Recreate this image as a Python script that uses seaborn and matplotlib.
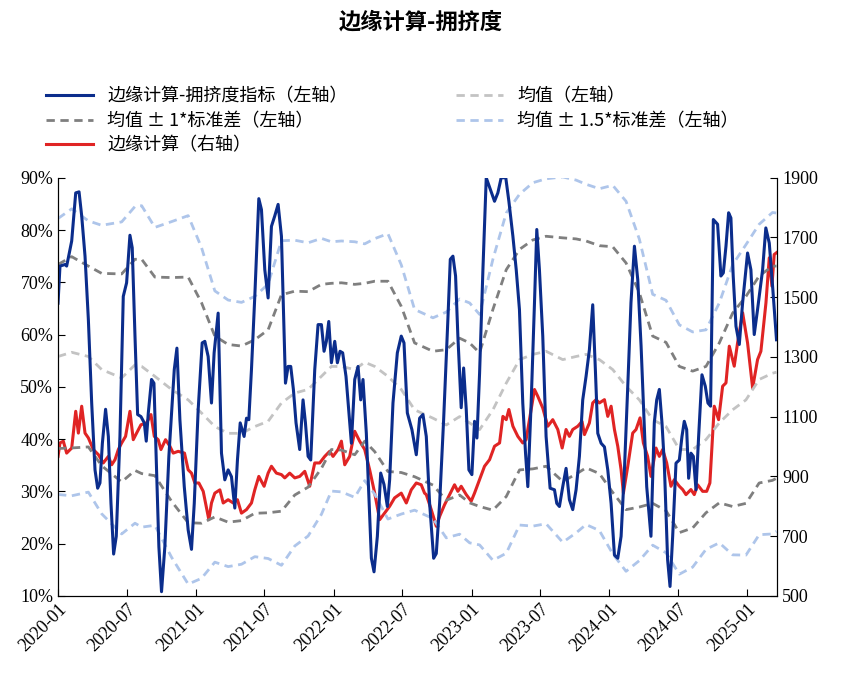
import numpy as np
import pandas as pd
import matplotlib
matplotlib.use("Agg")
import matplotlib.pyplot as plt
import matplotlib.dates as mdates
from matplotlib import font_manager
import seaborn as sns

# months since 2020-01-01
idx_m = [0.0,0.17,0.61,0.75,0.9,1.19,1.54,1.83,2.06,2.35,2.64,2.93,3.22,3.45,3.65,3.86,4.14,4.38,4.61,4.84,5.07,5.39,5.68,5.97,6.26,6.46,6.7,6.93,7.22,7.51,7.68,7.86,8.14,8.35,8.58,8.78,9.01,9.3,9.65,10.12,10.35,10.61,10.99,11.33,11.62,11.86,12.2,12.55,12.78,13.07,13.36,13.59,13.94,14.23,14.52,14.81,15.1,15.39,15.62,15.86,16.2,16.41,16.61,16.84,17.13,17.48,17.71,18.0,18.29,18.58,18.87,19.16,19.45,19.8,20.03,20.26,20.49,20.72,21.04,21.33,21.54,21.77,22.0,22.35,22.64,22.93,23.16,23.36,23.57,23.8,24.09,24.32,24.55,24.78,25.07,25.54,25.83,26.12,26.35,26.55,26.84,27.28,27.51,27.8,28.09,28.38,28.67,28.87,29.16,29.54,29.88,30.12,30.41,30.81,31.19,31.48,31.77,32.06,32.35,32.7,32.93,33.22,33.57,33.94,34.15,34.38,34.61,34.81,35.1,35.31,35.54,35.77,36.03,36.26,36.47,36.7,36.99,37.28,37.63,38.0,38.29,38.58,38.98,39.25,39.6,39.89,40.17,40.46,40.7,40.9,41.19,41.48,41.68,41.91,42.2,42.49,42.84,43.22,43.42,43.65,43.94,44.23,44.52,44.81,45.1,45.39,45.68,45.97,46.26,46.55,46.78,46.99,47.28,47.57,47.86,48.15,48.44,48.73,49.02,49.31,49.6,49.88,50.18,50.47,50.76,50.96,51.25,51.62,51.91,52.12,52.35,52.58,52.78,53.07,53.28,53.51,53.8,54.09,54.32,54.52,54.73,54.9,55.1,55.31,55.54,55.77,56.06,56.35,56.58,56.81,57.05,57.42,57.71,57.92,58.15,58.38,58.58,58.78,59.02,59.31,59.6,60.03,60.32,60.61,60.9,61.34,61.62,61.92,62.21,62.55]
idx_v = [66.0,73.1,73.4,73.1,74.7,77.9,87.1,87.3,82.7,75.0,62.9,46.9,34.1,30.6,31.6,39.2,45.7,40.5,27.7,18.0,21.4,40.5,67.3,69.9,79.0,76.6,59.7,44.7,44.3,43.1,39.6,45.0,51.4,50.7,34.1,19.4,10.8,19.4,36.7,53.3,57.4,43.7,30.9,22.6,18.9,27.7,45.6,58.4,58.7,55.8,46.9,56.5,64.1,37.3,32.2,34.1,32.8,26.8,36.0,43.1,40.5,44.0,43.7,53.3,67.3,86.0,83.9,72.4,67.0,80.7,82.7,84.9,78.8,50.7,53.9,53.9,49.5,43.1,38.0,47.5,43.1,36.7,36.0,53.3,61.9,61.9,56.8,58.7,62.5,54.6,58.7,54.6,56.8,56.5,52.0,39.2,51.4,53.9,47.5,51.4,41.1,17.2,14.6,21.4,33.5,31.3,27.1,32.2,46.9,56.5,59.7,58.4,45.0,41.8,37.0,44.0,44.7,40.5,27.7,17.2,18.1,27.7,43.7,62.9,74.4,75.0,71.2,59.7,46.0,53.6,45.6,34.1,33.2,43.4,40.2,52.6,72.4,92.0,87.8,85.5,87.1,92.0,92.0,85.5,78.8,72.4,64.8,46.9,37.3,30.9,46.9,66.1,80.1,72.4,59.7,40.5,30.6,30.3,27.7,27.1,30.9,34.4,28.4,26.5,30.3,36.7,47.5,52.0,57.1,65.7,53.3,41.1,39.2,38.5,34.1,27.7,17.8,17.2,21.4,34.1,50.1,66.1,76.9,70.5,57.8,46.9,30.9,21.4,43.1,47.5,49.5,43.1,35.4,16.9,11.8,21.4,35.4,36.0,40.5,43.4,41.8,32.5,37.3,36.7,30.3,40.5,52.3,50.1,46.9,46.3,82.0,81.1,71.2,71.8,76.9,83.3,82.3,71.2,61.6,58.1,66.1,75.6,72.4,60.0,64.8,72.4,80.4,77.5,69.2,59.0]

price_m = [0,0.17,0.46,0.75,1.19,1.54,1.77,2.06,2.35,2.64,3.07,3.51,3.94,4.38,4.67,4.96,5.25,5.54,5.88,6.26,6.55,6.84,7.22,7.71,8.09,8.38,8.72,8.96,9.36,9.74,10.03,10.46,11.01,11.33,11.62,11.91,12.26,12.64,13.13,13.36,13.65,14.09,14.38,14.81,15.25,15.62,15.97,16.41,16.84,17.13,17.48,17.94,18.29,18.58,19.01,19.45,19.74,20.17,20.61,21.04,21.48,21.91,22.35,22.78,23.22,23.65,23.94,24.38,24.67,24.96,25.39,25.83,26.26,26.7,27.13,27.57,28.0,28.43,28.87,29.3,29.88,30.32,30.75,31.19,31.62,31.91,32.06,32.49,32.93,33.22,33.65,34.09,34.52,34.81,35.1,35.54,35.97,36.26,36.7,37.13,37.57,38.0,38.44,38.73,39.02,39.25,39.6,40.03,40.46,40.75,41.19,41.48,41.77,42.2,42.64,43.07,43.51,43.89,44.23,44.52,44.81,45.25,45.62,45.83,46.26,46.55,46.84,47.13,47.57,47.86,48.15,48.44,48.73,49.02,49.22,49.6,50.03,50.32,50.67,50.96,51.33,51.62,52.06,52.35,52.64,52.99,53.36,53.65,54.09,54.38,54.67,55.1,55.39,55.68,56.12,56.47,56.75,57.13,57.51,57.86,58.15,58.44,58.87,59.16,59.6,60.03,60.47,60.9,61.19,61.63,61.92,62.15,62.35,62.55]
price_v = [967,1012,1018,978,995,1118,1045,1135,1045,1029,990,973,945,967,939,956,990,1012,1034,1118,1023,1045,1073,1079,1107,1034,1023,990,1023,1001,978,984,978,922,911,878,878,850,755,811,844,855,811,822,811,822,777,789,811,855,900,867,911,934,911,906,895,911,895,900,917,867,945,945,967,984,967,990,1018,939,967,1051,1018,990,922,844,755,777,800,828,844,811,855,878,872,844,839,789,733,766,805,839,872,850,867,839,817,844,889,934,956,1001,1012,1101,1090,1124,1068,1034,1012,1023,1124,1191,1168,1129,1068,1090,1057,995,1057,1034,1057,1068,1084,1040,1079,1146,1157,1146,1157,1101,1135,1057,1001,922,844,934,1045,1057,1096,1012,967,900,995,967,990,945,867,889,867,856,839,856,839,872,850,850,878,1135,1090,1202,1213,1336,1269,1347,1448,1347,1196,1291,1319,1481,1632,1537,1643,1649]

stat_m = [0.0,1.19,2.64,3.8,5.54,6.7,7.28,8.43,9.88,11.33,12.49,13.65,14.81,15.97,17.13,18.29,19.45,20.61,21.77,22.93,23.8,24.67,25.83,26.7,27.57,28.72,29.88,31.04,32.64,33.8,34.96,35.83,36.7,37.86,39.02,40.18,41.34,42.49,43.94,45.1,45.97,47.13,48.29,49.45,50.61,51.77,52.93,54.09,55.25,56.41,57.57,58.73,59.89,61.04,62.2,62.55]
mean_v = [55.8,56.6,55.8,53.3,51.7,54.2,53.9,52.0,49.5,47.5,45.0,42.4,41.1,41.1,42.4,43.4,46.9,48.8,49.5,52.0,53.9,53.9,53.3,54.7,53.9,52.0,49.5,45.6,44.0,42.7,44.3,43.1,41.8,45.6,50.7,55.2,56.2,56.8,55.2,55.8,56.2,55.2,53.3,50.1,47.5,43.7,42.4,38.0,38.0,39.9,43.1,45.6,47.5,51.4,52.6,52.8]
std_v = [17.6,18.3,17.3,18.4,19.9,20.2,20.5,19.0,21.4,23.5,21.1,17.3,17.0,16.7,16.6,17.5,20.7,19.5,18.7,17.6,15.9,16.0,16.3,15.1,16.3,18.2,15.9,12.8,12.8,14.4,15.0,15.3,14.7,19.2,21.7,21.1,21.9,22.0,23.3,22.5,21.7,21.8,23.5,23.6,20.5,16.0,16.1,15.9,15.0,14.0,15.3,18.5,19.8,19.8,20.5,20.3]

base = pd.Timestamp("2020-01-01")
def to_dates(m):
    return [base + pd.Timedelta(days=float(x) * 30.44) for x in m]

df_idx = pd.DataFrame({"date": to_dates(idx_m), "v": np.clip(idx_v, None, 90.0)})
df_p = pd.DataFrame({"date": to_dates(price_m), "v": price_v})
mean = np.array(mean_v); std = np.array(std_v)
df_s = pd.DataFrame({"date": to_dates(stat_m), "mean": mean,
                     "u1": mean + std, "l1": mean - std,
                     "u15": mean + 1.5 * std, "l15": mean - 1.5 * std})

avail = {f.name for f in font_manager.fontManager.ttflist}
cjk_list = [n for n in ["Noto Sans CJK SC", "Noto Sans CJK JP", "Noto Sans CJK TC",
                        "Noto Sans CJK KR", "Noto Serif CJK SC"] if n in avail]
cands = [f.name for f in font_manager.fontManager.ttflist if "CJK" in f.name]
if not cjk_list:
    cjk_list = cands[:1]
plt.rcParams["font.family"] = cjk_list + ["DejaVu Sans"]
serif = "Liberation Serif"

fig = plt.figure(figsize=(8.41, 6.81), dpi=100)
ax = fig.add_axes([0.069, 0.125, 0.855, 0.614])
ax2 = ax.twinx()

c_blue = "#0b2d8c"; c_red = "#e02424"; c_mean = "#c3c3c3"; c_sd1 = "#7f7f7f"; c_sd15 = "#aec5ea"
lw = 2.0
dash = (0, (3, 2))
sns.lineplot(data=df_s, x="date", y="u15", ax=ax, color=c_sd15, lw=lw, ls=dash)
sns.lineplot(data=df_s, x="date", y="l15", ax=ax, color=c_sd15, lw=lw, ls=dash)
sns.lineplot(data=df_s, x="date", y="u1", ax=ax, color=c_sd1, lw=lw, ls=dash)
sns.lineplot(data=df_s, x="date", y="l1", ax=ax, color=c_sd1, lw=lw, ls=dash)
sns.lineplot(data=df_s, x="date", y="mean", ax=ax, color=c_mean, lw=lw, ls=dash)
sns.lineplot(data=df_idx, x="date", y="v", ax=ax, color=c_blue, lw=2.2)
sns.lineplot(data=df_p, x="date", y="v", ax=ax2, color=c_red, lw=2.2)

ax.set_zorder(ax2.get_zorder() + 1); ax.patch.set_visible(False)

ax.set_xlim(base, base + pd.Timedelta(days=62.6 * 30.44))
ax.set_ylim(10, 90); ax2.set_ylim(500, 1900)
ax.set_yticks(range(10, 91, 10))
ax.set_yticklabels([f"{v}%" for v in range(10, 91, 10)], fontfamily=serif, fontsize=13)
ax2.set_yticks(range(500, 1901, 200))
ax2.set_yticklabels([str(v) for v in range(500, 1901, 200)], fontfamily=serif, fontsize=13)
ticks = pd.date_range("2020-01-01", "2025-01-01", freq="6MS")
ax.set_xticks(ticks)
ax.set_xticklabels([t.strftime("%Y-%m") for t in ticks], rotation=45, ha="right",
                   rotation_mode="anchor", fontfamily=serif, fontsize=13)
for a in (ax, ax2):
    a.set_xlabel(""); a.set_ylabel("")
    a.spines["top"].set_visible(False)
    a.tick_params(direction="in", length=5)

from matplotlib.lines import Line2D
h = [Line2D([], [], color=c_blue, lw=2.2),
     Line2D([], [], color=c_sd1, lw=lw, ls=dash),
     Line2D([], [], color=c_red, lw=2.2),
     Line2D([], [], color=c_mean, lw=lw, ls=dash),
     Line2D([], [], color=c_sd15, lw=lw, ls=dash)]
labels = ["边缘计算-拥挤度指标（左轴）", "均值 ± 1*标准差（左轴）", "边缘计算（右轴）",
          "均值（左轴）", "均值 ± 1.5*标准差（左轴）"]
fig.legend(h, labels, ncol=2, loc="upper left", bbox_to_anchor=(0.035, 0.895),
           frameon=False, prop={"size": 13}, columnspacing=6.0,
           handlelength=2.6, labelspacing=0.35)
fig.suptitle("边缘计算-拥挤度", fontsize=16, fontweight="bold", y=0.985)
fig.savefig("out.png", dpi=100)
